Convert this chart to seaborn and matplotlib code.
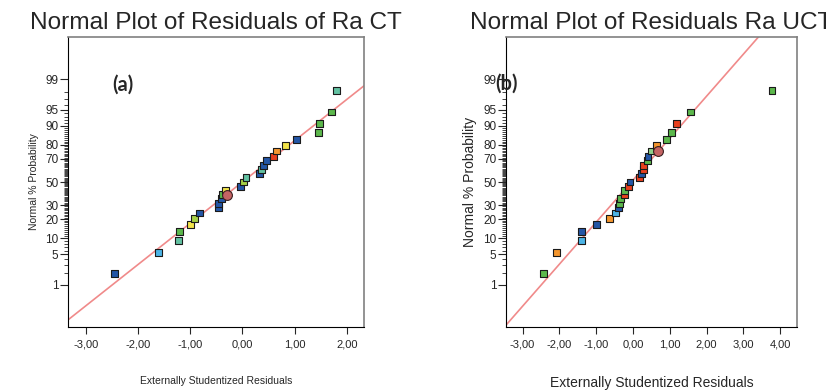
import matplotlib
matplotlib.use('Agg')
from matplotlib import pyplot as plt
from matplotlib import ticker
from statistics import NormalDist
import numpy as np
import pandas as pd
import seaborn as sns

# ---- data ----
ct_x = [-2.44, -1.61, -1.22, -1.21, -1.00, -0.92, -0.83, -0.45, -0.45, -0.40,
        -0.39, -0.32, -0.04, 0.03, 0.07, 0.32, 0.36, 0.40, 0.47, 0.59,
        0.65, 0.83, 1.03, 1.45, 1.47, 1.70, 1.81]
ct_p = [1.9, 5.6, 9.3, 13.0, 16.7, 20.4, 24.1, 27.8, 31.5, 35.2,
        38.9, 42.6, 46.3, 50.0, 53.7, 57.4, 61.1, 64.8, 68.5, 72.2,
        75.9, 79.6, 83.3, 87.0, 90.7, 94.4, 98.1]
ct_c = ['blue', 'lblue', 'teal', 'green', 'yellow', 'ygreen', 'blue', 'blue', 'blue', 'blue',
        'green', 'yellow', 'blue', 'ygreen', 'teal', 'blue', 'teal', 'blue', 'blue', 'red',
        'orange', 'yellow', 'blue', 'green', 'green', 'green', 'teal']
ct_circle = (-0.30, 38.0)
ct_line = (0.937, 0.0)   # slope, intercept in z units

uct_x = [-2.43, -2.09, -1.41, -1.39, -0.99, -0.63, -0.48, -0.40, -0.37, -0.35,
         -0.24, -0.24, -0.12, -0.08, 0.18, 0.24, 0.28, 0.30, 0.40, 0.41,
         0.51, 0.64, 0.90, 1.04, 1.18, 1.56, 3.78]
uct_p = ct_p
uct_c = ['green', 'orange', 'lblue', 'blue', 'blue', 'orange', 'lblue', 'blue', 'green', 'green',
         'red', 'green', 'red', 'blue', 'red', 'blue', 'red', 'red', 'green', 'blue',
         'lgreen', 'orange', 'green', 'green', 'red', 'green', 'green']
uct_circle = (0.68, 75.8)
uct_line = (0.953, 0.04)

prob_major = [1, 5, 10, 20, 30, 50, 70, 80, 90, 95, 99]
prob_minor = list(range(1, 100))
ct_xticks = [-3, -2, -1, 0, 1, 2]
uct_xticks = [-3, -2, -1, 0, 1, 2, 3, 4]

colors = {'blue': '#2456a6', 'lblue': '#4cb4e6', 'teal': '#62c2a2', 'green': '#5cb84c',
          'ygreen': '#a6d046', 'lgreen': '#8fd08a', 'yellow': '#f2e44a', 'orange': '#f4962e',
          'red': '#e8401e'}

nd = NormalDist()
_inv = np.vectorize(lambda v: nd.inv_cdf(v / 100.0), otypes=[float])
_cdf = np.vectorize(lambda v: nd.cdf(v) * 100.0, otypes=[float])


def to_z(p):
    p = np.clip(np.asarray(p, dtype=float), 1e-7, 100 - 1e-7)
    return _inv(p)


def to_p(z):
    return _cdf(np.asarray(z, dtype=float))


def panel(ax, xs, ps, cs, circle, line, xlim, xticks, title, tag, tag_pos, lab_size):
    df = pd.DataFrame({'x': xs, 'p': ps, 'c': cs})
    ax.set_yscale('function', functions=(to_z, to_p))
    lx = np.array(xlim)
    lp = to_p(line[0] * lx + line[1])
    sns.lineplot(x=lx, y=lp, ax=ax, color='#f08a8a', lw=1.2, sort=False, zorder=1)
    sns.scatterplot(data=df, x='x', y='p', hue='c', palette=colors, marker='s', s=25,
                    edgecolor='#1a1a1a', linewidth=0.8, legend=False, ax=ax, zorder=3)
    ax.scatter([circle[0]], [circle[1]], marker='o', s=50, color='#c46464',
               edgecolor='#3a2020', linewidth=0.8, zorder=4)
    ax.set_xlim(xlim)
    ax.set_ylim(0.05, 99.95)
    ax.yaxis.set_major_locator(ticker.FixedLocator(prob_major))
    ax.yaxis.set_major_formatter(ticker.FixedFormatter([str(v) for v in prob_major]))
    ax.yaxis.set_minor_locator(ticker.FixedLocator(prob_minor))
    ax.yaxis.set_minor_formatter(ticker.NullFormatter())
    ax.set_xticks(xticks)
    ax.set_xticklabels([('%.2f' % v).replace('.', ',') for v in xticks])
    ax.tick_params(axis='y', which='major', length=6, width=0.8, labelsize=8.5, pad=1)
    ax.tick_params(axis='y', which='minor', length=3, width=0.6)
    ax.tick_params(axis='x', which='major', length=5, width=0.8, labelsize=8, pad=4)
    for s in ['left', 'bottom']:
        ax.spines[s].set_color('black')
        ax.spines[s].set_linewidth(0.8)
    for s in ['top', 'right']:
        ax.spines[s].set_color('#808080')
        ax.spines[s].set_linewidth(1.2)
    ax.set_title(title, fontsize=17.6, pad=6)
    ax.set_xlabel('Externally Studentized Residuals', fontsize=lab_size, labelpad=19)
    ax.set_ylabel('Normal % Probability', fontsize=lab_size, labelpad=4)
    ax.text(tag_pos[0], tag_pos[1], tag, transform=ax.transAxes, fontsize=14.5,
            fontweight='bold', family=['Lato', 'DejaVu Sans'], ha='center', va='center')


sns.set_style('ticks')
plt.rcParams['font.family'] = ['Liberation Sans', 'DejaVu Sans']

fig = plt.figure(figsize=(8.26, 3.92), dpi=100)
ax1 = fig.add_axes([0.0823, 0.1658, 0.3584, 0.7398])
ax2 = fig.add_axes([0.6126, 0.1658, 0.3523, 0.7398])

panel(ax1, ct_x, ct_p, ct_c, ct_circle, ct_line, (-3.34, 2.33), ct_xticks,
      'Normal Plot of Residuals of Ra CT', '(a)', (0.186, 0.834), 7.5)
panel(ax2, uct_x, uct_p, uct_c, uct_circle, uct_line, (-3.45, 4.46), uct_xticks,
      'Normal Plot of Residuals Ra UCT', '(b)', (0.0, 0.838), 10)

fig.savefig('out.png', dpi=100)
